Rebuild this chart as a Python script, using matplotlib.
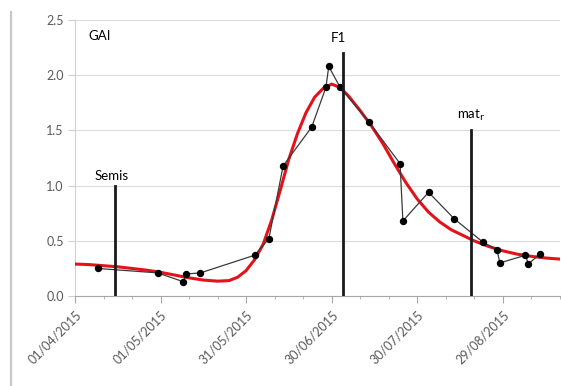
import pandas as pd
import matplotlib.pyplot as plt
import matplotlib.dates as mdates
from matplotlib.lines import Line2D

plt.rcParams['font.family'] = ['Lato', 'DejaVu Sans']

# Measured GAI (date, value)
obs_dates = ['2015-04-09', '2015-04-30', '2015-05-09', '2015-05-10', '2015-05-15',
             '2015-06-03', '2015-06-08', '2015-06-13', '2015-06-23', '2015-06-28',
             '2015-06-29', '2015-07-03', '2015-07-13', '2015-07-24', '2015-07-25',
             '2015-08-03', '2015-08-12', '2015-08-22', '2015-08-27', '2015-08-28',
             '2015-09-06', '2015-09-07', '2015-09-11']
obs_gai = [0.25, 0.21, 0.13, 0.20, 0.21,
           0.37, 0.52, 1.18, 1.53, 1.89,
           2.08, 1.89, 1.58, 1.20, 0.68,
           0.94, 0.70, 0.49, 0.42, 0.30,
           0.37, 0.29, 0.38]

# Fitted curve (days after 01/04/2015, GAI)
fit_days = [0, 5, 10, 15, 20, 25, 30, 35, 40, 45, 50, 54, 57, 60, 63, 66, 69, 72,
            75, 78, 81, 84, 87, 90, 93, 96, 100, 104, 108, 112, 116, 120, 124,
            128, 132, 136, 140, 145, 150, 155, 160, 165, 170]
fit_gai = [0.29, 0.285, 0.275, 0.265, 0.25, 0.235, 0.215, 0.19, 0.165, 0.145, 0.135,
           0.14, 0.17, 0.23, 0.33, 0.47, 0.69, 0.96, 1.24, 1.47, 1.66, 1.80, 1.88,
           1.92, 1.89, 1.81, 1.68, 1.54, 1.38, 1.20, 1.03, 0.88, 0.76, 0.67, 0.60,
           0.55, 0.50, 0.45, 0.41, 0.38, 0.36, 0.345, 0.335]

# Development stages: label, date, line height
stage_labels = ['Semis', 'F1', r'mat$_\mathrm{r}$']
stage_dates = ['2015-04-15', '2015-07-04', '2015-08-18']
stage_heights = [1.0, 2.2, 1.5]

start = pd.Timestamp('2015-04-01')
obs_x = pd.to_datetime(obs_dates)
fit_x = start + pd.to_timedelta(fit_days, unit='D')
stage_x = pd.to_datetime(stage_dates)

fig = plt.figure(figsize=(5.61, 3.86), dpi=100)
ax = fig.add_axes([0.1337, 0.233, 0.864, 0.715])

# thin frame line on the far left
fig.add_artist(Line2D([0.02, 0.02], [0.0, 0.97], color='#c8c8c8', lw=1.6))

ax.plot(fit_x, fit_gai, color='#e3121b', lw=2.2, zorder=3)
ax.plot(obs_x, obs_gai, color='#3a3a3a', lw=0.9, marker='o', ms=4.3,
        mfc='black', mec='black', zorder=4)

for lab, d, h in zip(stage_labels, stage_x, stage_heights):
    ax.plot([d, d], [0, h], color='#1a1a1a', lw=2.0, zorder=5)

ax.text(start + pd.Timedelta(days=13), 1.09, 'Semis', ha='center', va='center', fontsize=9.5)
ax.text(start + pd.Timedelta(days=92.3), 2.34, 'F1', ha='center', va='center', fontsize=9.5)
ax.text(start + pd.Timedelta(days=139), 1.64, r'mat$_\mathrm{r}$', ha='center', va='center',
        fontsize=9.5)
ax.text(start + pd.Timedelta(days=4.6), 2.36, 'GAI', ha='left', va='center', fontsize=9.5)

ax.set_xlim(start, start + pd.Timedelta(days=170))
ax.set_ylim(0, 2.5)

major = [start + pd.Timedelta(days=30 * i) for i in range(6)]
minor = [start + pd.Timedelta(days=10 * i) for i in range(18)]
ax.set_xticks(major)
ax.set_xticks(minor, minor=True)
ax.xaxis.set_major_formatter(mdates.DateFormatter('%d/%m/%Y'))
plt.setp(ax.get_xticklabels(), rotation=45, ha='right', va='top', rotation_mode='anchor')

ax.set_yticks([0, 0.5, 1.0, 1.5, 2.0, 2.5])
ax.set_yticklabels(['0.0', '0.5', '1.0', '1.5', '2.0', '2.5'])

ax.grid(axis='y', color='#dcdcdc', lw=0.8)
ax.set_axisbelow(True)
for s in ['top', 'right']:
    ax.spines[s].set_visible(False)
ax.spines['left'].set_color('#d0d0d0')
ax.spines['bottom'].set_color('#a6a6a6')
ax.tick_params(axis='y', length=5, color='#d0d0d0', labelcolor='#595959', labelsize=9, pad=3)
ax.tick_params(axis='x', which='major', length=5, color='#a6a6a6', labelcolor='#595959',
               labelsize=9, pad=4)
ax.tick_params(axis='x', which='minor', length=2.5, color='#a6a6a6')

plt.savefig('out.png', dpi=100)
